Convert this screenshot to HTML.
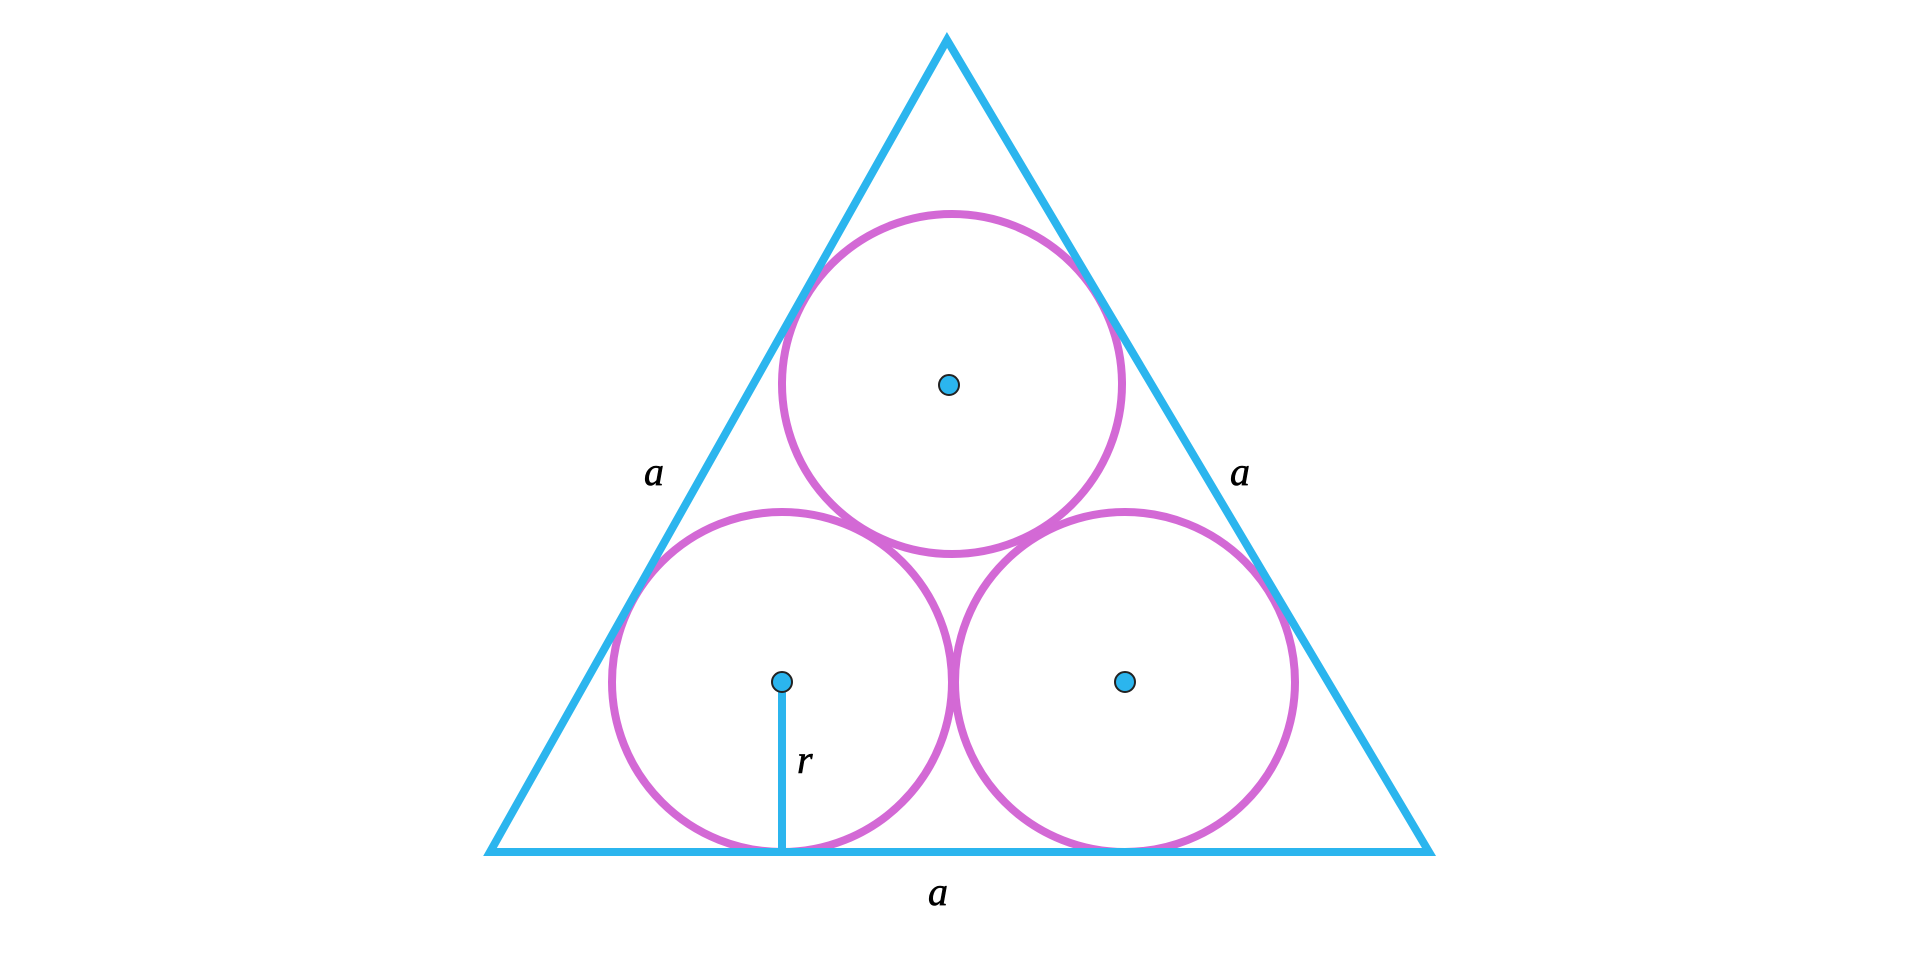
<!DOCTYPE html>
<html><head><style>html,body{margin:0;padding:0;background:#fff;}svg{display:block}</style></head>
<body>
<svg width="1920" height="955" viewBox="0 0 1920 955" xmlns="http://www.w3.org/2000/svg">
<g fill="none" stroke="#d369d5" stroke-width="8">
<circle cx="952" cy="384" r="170"/>
<circle cx="782" cy="682" r="170"/>
<circle cx="1125" cy="682" r="170"/>
</g>
<polygon points="947,40 490,852 1429,852" fill="none" stroke="#2bb5ee" stroke-width="8"/>
<line x1="782" y1="682" x2="782" y2="852" stroke="#2bb5ee" stroke-width="8"/>
<g fill="#2bb5ee" stroke="#222" stroke-width="2">
<circle cx="949" cy="385" r="10"/>
<circle cx="782" cy="682" r="10"/>
<circle cx="1125" cy="682" r="10"/>
</g>
<g font-family="'Liberation Serif', serif" font-style="italic" font-size="40" fill="#000" stroke="#000" stroke-width="0.6">
<text x="644" y="485">a</text>
<text x="1230" y="485">a</text>
<text x="928" y="905">a</text>
<text x="797" y="773">r</text>
</g>
</svg>
</body></html>
